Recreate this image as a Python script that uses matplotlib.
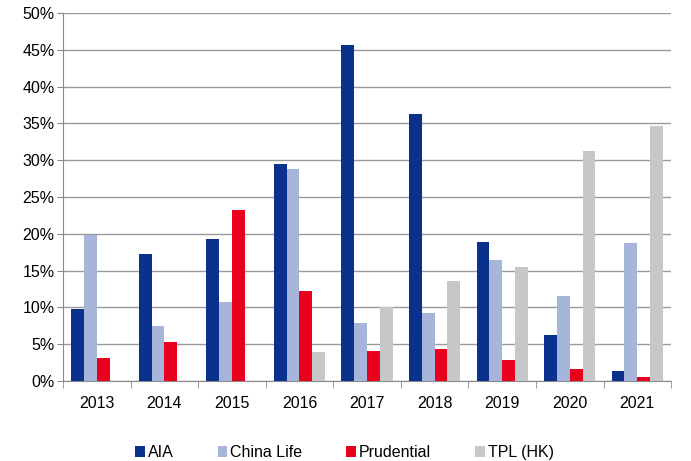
import matplotlib
matplotlib.use("Agg")
import matplotlib.pyplot as plt
import numpy as np
from matplotlib.ticker import PercentFormatter

years = ["2013", "2014", "2015", "2016", "2017", "2018", "2019", "2020", "2021"]
aia = [9.8, 17.3, 19.3, 29.5, 45.6, 36.3, 18.9, 6.2, 1.3]
china_life = [19.9, 7.5, 10.8, 28.8, 7.9, 9.2, 16.5, 11.6, 18.7]
prudential = [3.1, 5.3, 23.2, 12.2, 4.1, 4.4, 2.9, 1.7, 0.5]
tpl = [0, 0, 0, 3.9, 10.0, 13.6, 15.5, 31.3, 34.7]

series = [
    ("AIA", aia, "#0b318f"),
    ("China Life", china_life, "#a8b5db"),
    ("Prudential", prudential, "#e8001c"),
    ("TPL (HK)", tpl, "#c6c7c9"),
]

plt.rcParams["font.family"] = ["Liberation Sans", "DejaVu Sans"]

fig = plt.figure(figsize=(6.91, 4.61), dpi=100)
ax = fig.add_axes([0.0912, 0.1735, 0.88, 0.7985])

x = np.arange(len(years))
w = 0.19
for i, (name, vals, col) in enumerate(series):
    ax.bar(x + (i - 1.5) * w, vals, w, color=col, label=name, zorder=3)

ax.set_xlim(-0.5, len(years) - 0.5)
ax.set_ylim(0, 50)
ax.set_yticks(np.arange(0, 51, 5))
ax.yaxis.set_major_formatter(PercentFormatter(decimals=0))
ax.grid(axis="y", color="#9a9a9a", linewidth=1, zorder=0)

ax.set_xticks(x)
ax.set_xticklabels(years)
ax.set_xticks(np.arange(-0.5, len(years)), minor=True)
ax.tick_params(axis="x", which="major", length=0, pad=11, labelsize=11.5)
ax.tick_params(axis="x", which="minor", length=5, color="#8a8a8a")
ax.tick_params(axis="y", length=4, color="#8a8a8a", labelsize=11.5, pad=2)

for s in ["top", "right"]:
    ax.spines[s].set_visible(False)
for s in ["left", "bottom"]:
    ax.spines[s].set_color("#8a8a8a")

ax.legend(loc="upper center", bbox_to_anchor=(0.463, -0.135), ncol=4, frameon=False,
          fontsize=11.5, handlelength=0.6, handleheight=0.6, handletextpad=0.2,
          columnspacing=2.75)

fig.savefig("out.png", dpi=100)
